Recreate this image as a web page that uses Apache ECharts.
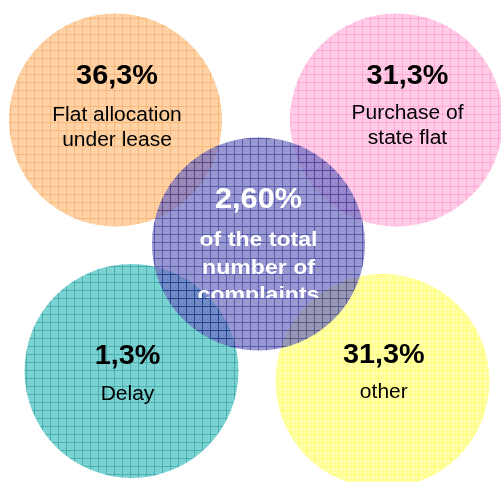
<!DOCTYPE html>
<html>
<head>
<meta charset="utf-8">
<script src="https://cdn.jsdelivr.net/npm/echarts@6/dist/echarts.min.js"></script>
<style>
  html, body { margin: 0; padding: 0; background: #ffffff; }
  #chart { width: 501px; height: 482px; }
</style>
</head>
<body>
<div id="chart"></div>
<script>
// Complaint topics and their shares (percent)
const topics = ['Flat allocation\nunder lease', 'Purchase of\nstate flat', 'Delay', 'other'];
const shares = [36.3, 31.3, 1.3, 31.3];
// Share of these complaints in the total number of complaints
const totalShare = 2.60;
const totalCaption = 'of the total\nnumber of\ncomplaints';

// Bubble layout: topic bubbles first, then the central total bubble
const bubbleLayout = [
  { cx: 115.5, cy: 120, r: 106.5 },
  { cx: 396.5, cy: 120, r: 106.5 },
  { cx: 131.5, cy: 371, r: 107 },
  { cx: 382.5, cy: 381, r: 107 },
  { cx: 258.5, cy: 244, r: 106.5 }
];
// Draw order (bottom to top): the total bubble sits over the topic bubbles
const drawOrder = [0, 1, 2, 3, 4];

// Hatched fills: base colour, dither colour, grid-line colour
const fills = [
  ['rgb(252,185,118)', 'rgb(255,197,140)', 'rgb(248,155,66)'],
  ['rgb(255,173,214)', 'rgb(255,190,225)', 'rgb(255,134,196)'],
  ['rgb(56,186,186)', 'rgb(78,198,198)', 'rgb(0,140,142)'],
  ['rgb(255,255,112)', 'rgb(255,255,145)', 'rgb(255,250,62)'],
  ['rgb(100,100,184)', 'rgb(118,118,196)', 'rgb(24,24,140)']
];
const bubbleOpacity = 0.7;

function makeTile(base, dither, line) {
  const cv = document.createElement('canvas');
  cv.width = 8; cv.height = 8;
  const ctx = cv.getContext('2d');
  for (let y = 0; y < 8; y++) {
    for (let x = 0; x < 8; x++) {
      ctx.fillStyle = (x === 2 || y === 2) ? line : ((x + y) % 2 ? dither : base);
      ctx.fillRect(x, y, 1, 1);
    }
  }
  return { image: cv, repeat: 'repeat' };
}
const patterns = fills.map(f => makeTile(f[0], f[1], f[2]));

const fmt = (v, d) => v.toFixed(d).replace('.', ',') + '%';

const FONT = '"Liberation Sans", Arial, Helvetica, sans-serif';

function textEl(str, x, baseline, size, bold, color, scaleX) {
  return {
    type: 'text',
    x: x,
    y: baseline - size * 0.35,
    scaleX: scaleX,
    z2: 100,
    style: {
      text: str,
      x: 0,
      y: 0,
      fill: color,
      fontFamily: FONT,
      fontSize: size,
      fontWeight: bold ? 'bold' : 'normal',
      align: 'center',
      verticalAlign: 'middle'
    }
  };
}

// Label placement relative to each bubble
const labelPos = [
  { dx: 1.5, share: -34, topic: 2 },
  { dx: 11, share: -33.5, topic: 0.7 },
  { dx: -4, share: -4.5, topic: 30.5 },
  { dx: 1.3, share: -16, topic: 18 }
];

function renderItem(params, api) {
  const k = params.dataIndex;
  const i = drawOrder[k];
  const c = bubbleLayout[i];
  const children = [{
    type: 'circle',
    z2: k,
    shape: { cx: c.cx, cy: c.cy, r: c.r },
    style: { fill: patterns[i], opacity: bubbleOpacity }
  }];
  if (i < 4) {
    const p = labelPos[i];
    children.push(textEl(fmt(shares[i], 1), c.cx + p.dx, c.cy + p.share, 28, true, '#000000', 1.03));
    topics[i].split('\n').forEach((ln, j) => {
      children.push(textEl(ln, c.cx + p.dx, c.cy + p.topic + j * 25, 20, false, '#000000', 1.05));
    });
  } else {
    children.push(textEl(fmt(totalShare, 2), c.cx, 210, 29, true, '#ffffff', 1.06));
    totalCaption.split('\n').forEach((ln, j) => {
      const base = 248 + j * 27.5;
      const el = textEl(ln, c.cx, base, 21, true, '#ffffff', 1.1);
      // the caption is cut off at the bottom of its text box
      el.clipPath = { type: 'rect', shape: { x: -300, y: -100, width: 600, height: 298 - (base - 21 * 0.35) + 100 } };
      children.push(el);
    });
  }
  return { type: 'group', children: children };
}

const chart = echarts.init(document.getElementById('chart'), null, { renderer: 'canvas' });
chart.setOption({
  animation: false,
  backgroundColor: '#ffffff',
  series: [{
    type: 'custom',
    coordinateSystem: 'none',
    silent: true,
    data: drawOrder.map((i) => (i < 4 ? shares[i] : totalShare)),
    renderItem: renderItem
  }]
});
</script>
</body>
</html>
